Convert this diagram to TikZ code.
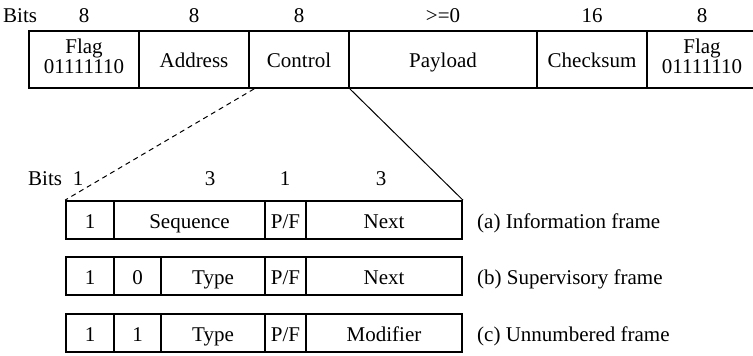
\documentclass[tikz,border=0pt]{standalone}
\usepackage{fontspec}
\setmainfont{Liberation Serif}
\newcommand{\flagtxt}{Flag\\01111110\rule[-6.6pt]{0pt}{6.6pt}}
\begin{document}
\begin{tikzpicture}[x=1pt,y=-1pt,
  every node/.style={font=\fontsize{21}{18}\selectfont, inner sep=0pt},
  box/.style={draw, line width=1.8pt, minimum height=#1, anchor=center},
  box/.default=57pt,
  cell/.style={box=#1, text height=19pt, text depth=3pt},
  cell/.default=57pt,
  flagcell/.style={box=57pt, align=center},
  lbl/.style={anchor=base},
  frm/.style={anchor=base west}]
\useasboundingbox (0,0) rectangle (753,356);
% top frame
\node[flagcell, minimum width=110pt] (f1) at (84,59.5) {\flagtxt};
\node[cell, minimum width=110pt] (ad) at (194,59.5) {Address};
\node[cell, minimum width=100pt] (ct) at (299,59.5) {Control};
\node[cell, minimum width=188pt] (pl) at (443,59.5) {Payload};
\node[cell, minimum width=110pt] (ck) at (592,59.5) {Checksum};
\node[flagcell, minimum width=110pt] (f2) at (702,59.5) {\flagtxt};
% bit widths top
\node[lbl, anchor=base west] (bt) at (3,22.5) {Bits};
\node[lbl] (n1) at (84,22.5) {8};
\node[lbl] (n2) at (194,22.5) {8};
\node[lbl] (n3) at (299,22.5) {8};
\node[lbl] (n4) at (443,22.5) {>=0};
\node[lbl] (n5) at (592,22.5) {16};
\node[lbl] (n6) at (702,22.5) {8};
% control field bit widths
\node[lbl, anchor=base west] (bb) at (28,185) {Bits};
\node[lbl] (m1) at (78,185) {1};
\node[lbl] (m2) at (210,185) {3};
\node[lbl] (m3) at (285,185) {1};
\node[lbl] (m4) at (381,185) {3};
% (a) information frame
\node[cell=38pt, minimum width=48pt] (a1) at (90,220) {1};
\node[cell=38pt, minimum width=151pt] (a2) at (189.5,220) {Sequence};
\node[cell=38pt, minimum width=41pt] (a3) at (285.5,220) {P/F};
\node[cell=38pt, minimum width=156pt] (a4) at (384,220) {Next};
\node[frm] (la) at (477,228) {(a) Information frame};
% (b) supervisory frame
\node[cell=38pt, minimum width=48pt] (b1) at (90,276) {1};
\node[cell=38pt, minimum width=47pt] (b2) at (137.5,276) {0};
\node[cell=38pt, minimum width=104pt] (b3) at (213,276) {Type};
\node[cell=38pt, minimum width=41pt] (b4) at (285.5,276) {P/F};
\node[cell=38pt, minimum width=156pt] (b5) at (384,276) {Next};
\node[frm] (lb) at (477,284) {(b) Supervisory frame};
% (c) unnumbered frame
\node[cell=38pt, minimum width=48pt] (c1) at (90,333) {1};
\node[cell=38pt, minimum width=47pt] (c2) at (137.5,333) {1};
\node[cell=38pt, minimum width=104pt] (c3) at (213,333) {Type};
\node[cell=38pt, minimum width=41pt] (c4) at (285.5,333) {P/F};
\node[cell=38pt, minimum width=156pt] (c5) at (384,333) {Modifier};
\node[frm] (lc) at (477,341) {(c) Unnumbered frame};
% expansion lines
\draw[line width=1pt, dash pattern=on 5pt off 4pt] ([xshift=6pt]ct.south west) -- (a1.north west);
\draw[line width=1pt] (ct.south east) -- (a4.north east);
\end{tikzpicture}
\end{document}
